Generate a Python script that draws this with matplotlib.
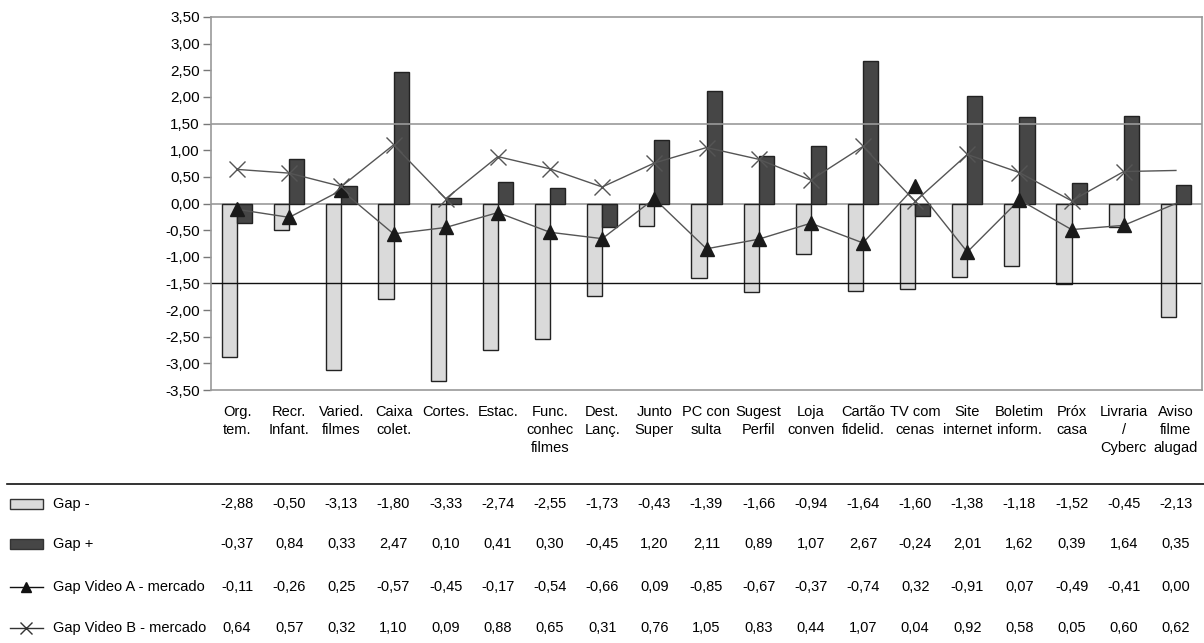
import matplotlib.pyplot as plt
import matplotlib.transforms as mtransforms
from matplotlib.patches import Rectangle
from matplotlib.lines import Line2D
import numpy as np

plt.rcParams['font.family'] = ['Liberation Sans Narrow', 'Liberation Sans', 'DejaVu Sans']

categorias = ["Org.\ntem.", "Recr.\nInfant.", "Varied.\nfilmes", "Caixa\ncolet.", "Cortes.",
              "Estac.", "Func.\nconhec\nfilmes", "Dest.\nLanç.", "Junto\nSuper", "PC con\nsulta",
              "Sugest\nPerfil", "Loja\nconven", "Cartão\nfidelid.", "TV com\ncenas",
              "Site\ninternet", "Boletim\ninform.", "Próx\ncasa", "Livraria\n/\nCyberc",
              "Aviso\nfilme\nalugad"]
gap_neg = [-2.88, -0.50, -3.13, -1.80, -3.33, -2.74, -2.55, -1.73, -0.43, -1.39,
           -1.66, -0.94, -1.64, -1.60, -1.38, -1.18, -1.52, -0.45, -2.13]
gap_pos = [-0.37, 0.84, 0.33, 2.47, 0.10, 0.41, 0.30, -0.45, 1.20, 2.11,
           0.89, 1.07, 2.67, -0.24, 2.01, 1.62, 0.39, 1.64, 0.35]
video_a = [-0.11, -0.26, 0.25, -0.57, -0.45, -0.17, -0.54, -0.66, 0.09, -0.85,
           -0.67, -0.37, -0.74, 0.32, -0.91, 0.07, -0.49, -0.41, 0.00]
video_b = [0.64, 0.57, 0.32, 1.10, 0.09, 0.88, 0.65, 0.31, 0.76, 1.05,
           0.83, 0.44, 1.07, 0.04, 0.92, 0.58, 0.05, 0.60, 0.62]
nomes = ["Gap -", "Gap +", "Gap Video A - mercado", "Gap Video B - mercado"]

W, H = 1204, 643
fig = plt.figure(figsize=(W / 100, H / 100), dpi=100)
ax = fig.add_axes([211 / W, 1 - 390 / H, (1202 - 211) / W, (390 - 17) / H])

x = np.arange(len(categorias))
w = 0.29
cor_claro = '#dadada'
cor_escuro = '#464646'

ax.bar(x - w / 2, gap_neg, w, color=cor_claro, edgecolor='#222222', linewidth=1, zorder=2)
ax.bar(x + w / 2, gap_pos, w, color=cor_escuro, edgecolor='#222222', linewidth=1, zorder=2)

# linhas de referência
ax.axhline(1.5, color='#999999', lw=1.2, zorder=2.5)
ax.axhline(0, color='#999999', lw=1.2, zorder=1)
ax.axhline(-1.5, color='#111111', lw=1, zorder=2.5)

ax.plot(x, video_a, color='#555555', lw=1, marker='^', markersize=10,
        markerfacecolor='#1a1a1a', markeredgecolor='#1a1a1a',
        markevery=slice(0, len(x) - 1), zorder=3)
ax.plot(x, video_b, color='#555555', lw=1, marker='x', markersize=12,
        markeredgewidth=1, markeredgecolor='#555555',
        markevery=slice(0, len(x) - 1), zorder=3)

ax.set_xlim(-0.5, len(x) - 0.5)
ax.set_ylim(-3.5, 3.5)
yt = np.arange(-3.5, 3.51, 0.5)
ax.set_yticks(yt)
ax.set_yticklabels([f"{v:.2f}".replace('.', ',') for v in yt], fontsize=11)
ax.tick_params(axis='y', length=6, width=1, color='#777777', pad=2)
ax.set_xticks(x)
ax.set_xticklabels(categorias, fontsize=10.5, va='top', linespacing=1.35)
ax.tick_params(axis='x', length=0, pad=11)
for s in ax.spines.values():
    s.set_color('#999999')
    s.set_linewidth(1.2)

# tabela de valores abaixo do gráfico
trans = mtransforms.blended_transform_factory(ax.transData, fig.transFigure)
fig.add_artist(Line2D([7 / W, 1], [1 - 484 / H] * 2, color='#111111', lw=1.2))
linhas_y = [504, 544, 587, 628]
series = [gap_neg, gap_pos, video_a, video_b]
for yy, nome, serie in zip(linhas_y, nomes, series):
    yf = 1 - yy / H
    fig.text(53 / W, yf, nome, fontsize=10.5, va='center', ha='left')
    for xi, v in zip(x, serie):
        fig.text(xi, yf, f"{v:.2f}".replace('.', ','), transform=trans,
                 fontsize=10.5, ha='center', va='center')

# chaves da legenda
for yy, cor in zip(linhas_y[:2], [cor_claro, cor_escuro]):
    fig.add_artist(Rectangle((10 / W, 1 - (yy + 5) / H), 33 / W, 10 / H,
                             facecolor=cor, edgecolor='#333333', lw=1,
                             transform=fig.transFigure))
xs_chave = [10 / W, 26.5 / W, 43 / W]
fig.add_artist(Line2D(xs_chave, [1 - linhas_y[2] / H] * 3, color='#111111', lw=1,
                      marker='^', markevery=[1], markersize=7))
fig.add_artist(Line2D(xs_chave, [1 - linhas_y[3] / H] * 3, color='#333333', lw=1,
                      marker='x', markevery=[1], markersize=8))

fig.savefig('out.png', dpi=100)
